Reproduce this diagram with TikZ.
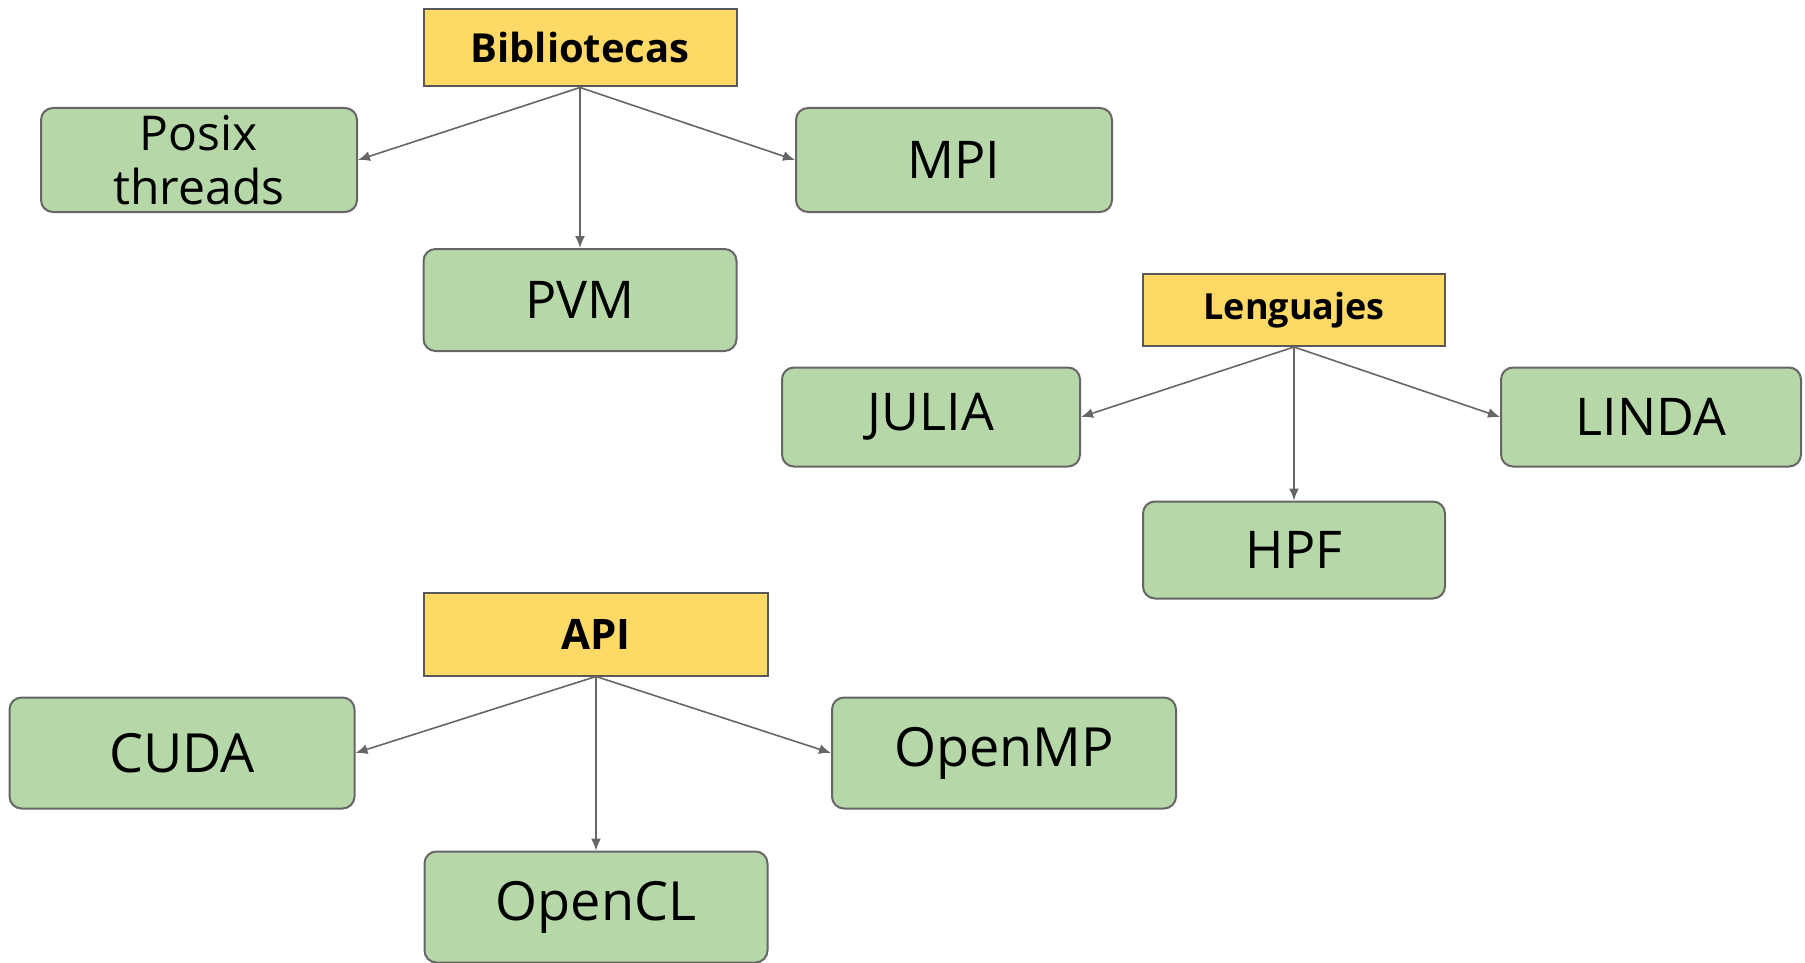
\documentclass[tikz,border=0pt]{standalone}
\usepackage{fontspec}
\setmainfont{Open Sans}
\usetikzlibrary{arrows.meta}

\definecolor{headyellow}{HTML}{FFD966}
\definecolor{leafgreen}{HTML}{B6D7A8}

\tikzset{
  head/.style={draw=black!65, fill=headyellow, line width=1pt, inner sep=0pt,
    font=\bfseries\fontsize{20}{24}\selectfont},
  leaf/.style={draw=black!60, fill=leafgreen, rounded corners=6pt, line width=1pt,
    inner sep=0pt, align=center, font=\fontsize{26}{30}\selectfont},
  link/.style={draw=black!60, line width=0.8pt, -{Latex[length=6pt,width=5pt]}}
}

\begin{document}
\begin{tikzpicture}
  [x=0.5pt,y=-0.5pt]
  \useasboundingbox (0,0) rectangle (1805,963);

  % Bibliotecas
  \node (bib) [head, minimum width=156.5pt, minimum height=38.5pt] at (580,48) {Bibliotecas};
  \node (posix) [leaf, minimum width=158pt, minimum height=52pt,
    font=\fontsize{24}{27}\selectfont] at (199,160) {Posix\\threads};
  \node (mpi) [leaf, minimum width=158pt, minimum height=52pt] at (954,160) {MPI};
  \node (pvm) [leaf, minimum width=156.5pt, minimum height=51pt] at (580,300) {PVM};

  % Lenguajes
  \node (leng) [head, minimum width=151pt, minimum height=36pt,
    font=\bfseries\fontsize{18}{22}\selectfont] at (1294,310) {Lenguajes};
  \node (julia) [leaf, minimum width=149pt, minimum height=49.5pt] at (931,417) {JULIA};
  \node (linda) [leaf, minimum width=150pt, minimum height=49.5pt] at (1651,417) {LINDA};
  \node (hpf) [leaf, minimum width=151pt, minimum height=48.5pt] at (1294,550) {HPF};

  % API
  \node (api) [head, minimum width=172pt, minimum height=41.5pt,
    font=\bfseries\fontsize{21}{25}\selectfont] at (596,634) {API};
  \node (cuda) [leaf, minimum width=172.5pt, minimum height=55.5pt,
    font=\fontsize{27}{31}\selectfont] at (182,753) {CUDA};
  \node (openmp) [leaf, minimum width=172pt, minimum height=55.5pt,
    font=\fontsize{27}{31}\selectfont] at (1004,753) {OpenMP};
  \node (opencl) [leaf, minimum width=171.5pt, minimum height=55.5pt,
    font=\fontsize{27}{31}\selectfont] at (596,907) {OpenCL};

  \foreach \from/\to in {bib.south/posix.east, bib.south/pvm.north, bib.south/mpi.west,
      leng.south/julia.east, leng.south/hpf.north, leng.south/linda.west,
      api.south/cuda.east, api.south/opencl.north, api.south/openmp.west}
    \draw [link] (\from) -- (\to);

\end{tikzpicture}
\end{document}
